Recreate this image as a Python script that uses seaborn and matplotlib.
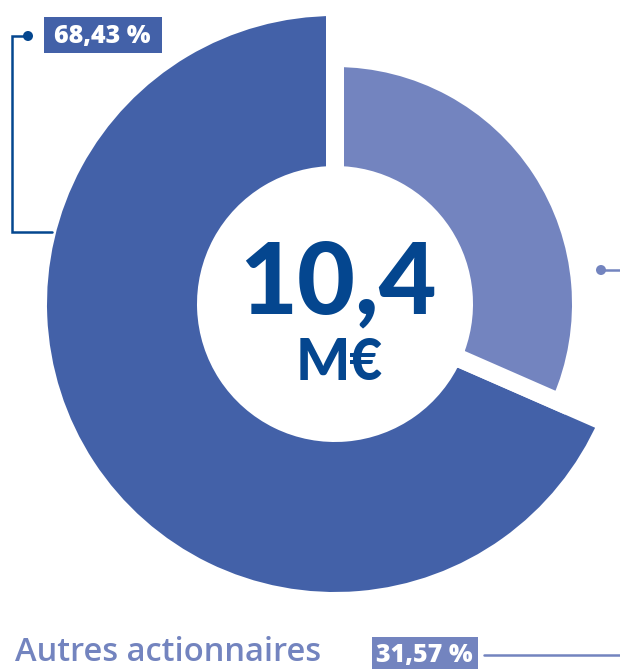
import matplotlib
matplotlib.use("Agg")
import matplotlib.pyplot as plt
from matplotlib.patches import Rectangle, Circle
import seaborn as sns

# data
labels = ["Autres actionnaires", "Principal actionnaire"]
shares = [31.57, 68.43]
share_labels = ["31,57 %", "68,43 %"]
total_label = "10,4"
unit_label = "M€"

DARK = "#4361A8"
LIGHT = "#7384BF"
NAVY = "#04468F"

W, H = 620, 669


def py(y):
    # pixel row (from top) -> data y
    return H - y


sns.set_theme(style="white")
plt.rcParams["font.family"] = ["Lato", "DejaVu Sans"]

fig = plt.figure(figsize=(W / 100, H / 100), dpi=100)
ax = fig.add_axes([0, 0, 1, 1])

cx, cy = 335, py(304)
gap_px = 18
lw = gap_px * 72 / 100
hole = 138 - gap_px / 2

# outer ring for the big share
w_dark, _ = ax.pie(shares, colors=["none", DARK], startangle=90, counterclock=False,
                   radius=288 + gap_px / 2, center=(cx, cy),
                   wedgeprops=dict(width=288 + gap_px / 2 - hole, edgecolor="white", linewidth=lw))
w_dark[0].set_visible(False)
# smaller ring for the other share
w_light, _ = ax.pie(shares, colors=[LIGHT, "none"], startangle=90, counterclock=False,
                    radius=237 + gap_px / 2, center=(cx, cy),
                    wedgeprops=dict(width=237 + gap_px / 2 - hole, edgecolor="white", linewidth=lw))
w_light[1].set_visible(False)

ax.set_xlim(0, W)
ax.set_ylim(0, H)
ax.set_aspect("equal")
ax.axis("off")

# centre text
ax.text(338, py(313), total_label, color=NAVY, fontsize=72, fontweight="black",
        ha="center", va="baseline")
ax.text(339, py(380), unit_label, color=NAVY, fontsize=41, fontweight="black",
        ha="center", va="baseline")

# label for the big share (top left)
bold = ["Open Sans", "DejaVu Sans"]
ax.add_patch(Rectangle((44, py(53)), 118, 36, color=DARK, lw=0))
ax.text(102, py(43), share_labels[1], color="white", fontsize=18, fontweight="heavy",
        ha="center", va="baseline", family=bold)
ax.plot([28, 12, 12, 52], [py(36), py(36), py(232), py(232)], color=NAVY, lw=1.8,
        solid_joinstyle="miter")
ax.add_patch(Circle((28, py(36)), 5, color=NAVY, lw=0))

# label for the other share (bottom)
ax.text(15, py(661), labels[0], color=LIGHT, fontsize=23.5, fontweight="semibold",
        ha="left", va="baseline", family=bold)
ax.add_patch(Rectangle((372, py(669)), 106, 32, color=LIGHT, lw=0))
ax.text(424, py(662), share_labels[0], color="white", fontsize=18, fontweight="heavy",
        ha="center", va="baseline", family=bold)
ax.plot([484, W], [py(655), py(655)], color=LIGHT, lw=1.8)
ax.plot([601, W], [py(270), py(270)], color=LIGHT, lw=1.8)
ax.add_patch(Circle((601, py(270)), 5, color=LIGHT, lw=0))

fig.savefig("out.png", dpi=100)
